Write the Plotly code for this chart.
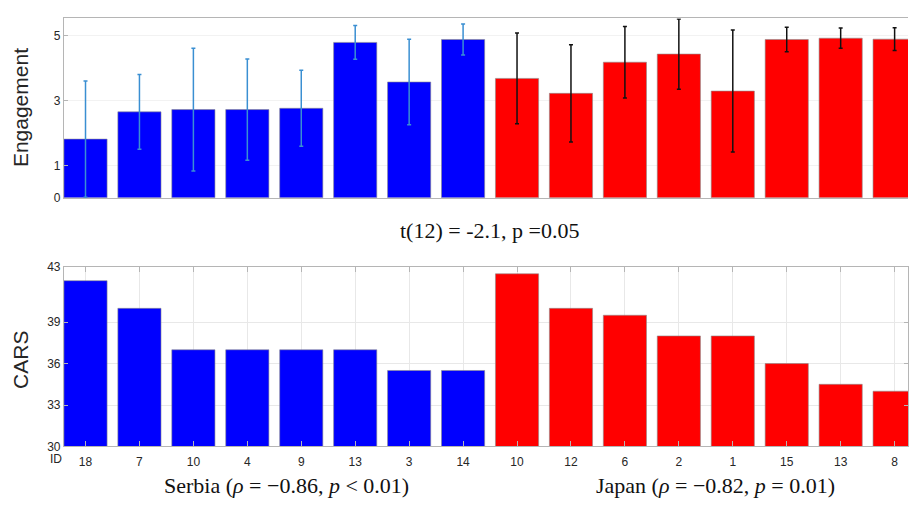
import plotly.graph_objects as go

# ---- data ----
serbia_ids = ["18", "7", "10", "4", "9", "13", "3", "14"]
japan_ids = ["10", "12", "6", "2", "1", "15", "13", "8"]

serbia_eng = [1.81, 2.65, 2.72, 2.72, 2.76, 4.79, 3.57, 4.88]
serbia_eng_sd = [1.79, 1.15, 1.89, 1.56, 1.17, 0.52, 1.32, 0.48]
japan_eng = [3.68, 3.22, 4.18, 4.43, 3.29, 4.88, 4.92, 4.89]
japan_eng_sd = [1.40, 1.50, 1.10, 1.08, 1.88, 0.38, 0.31, 0.35]

serbia_cars = [42.0, 40.0, 37.0, 37.0, 37.0, 37.0, 35.5, 35.5]
japan_cars = [42.5, 40.0, 39.5, 38.0, 38.0, 36.0, 34.5, 34.0]

eng_ticks = [0, 1, 3, 5]
cars_ticks = [30, 33, 36, 39, 43]

W, H = 909, 505
BLUE = "#0000ff"
RED = "#ff0000"
ERR_BLUE = "#3a8fd2"
ERR_BLACK = "#111111"
AXIS = "#b5b5b5"
TICKFONT = dict(family="Liberation Sans, Arial, sans-serif", size=12, color="#262626")

xs_serbia = [i + 1 for i in range(len(serbia_ids))]
xs_japan = [len(serbia_ids) + i + 1 for i in range(len(japan_ids))]
all_ids = serbia_ids + japan_ids
all_x = xs_serbia + xs_japan

fig = go.Figure()

edge = dict(color="#8c8c8c", width=0.6)

fig.add_trace(go.Bar(x=xs_serbia, y=serbia_eng, width=0.8, marker=dict(color=BLUE, line=edge),
                     error_y=dict(type="data", array=serbia_eng_sd, color=ERR_BLUE, thickness=1.5, width=2),
                     xaxis="x", yaxis="y", showlegend=False))
fig.add_trace(go.Bar(x=xs_japan, y=japan_eng, width=0.8, marker=dict(color=RED, line=edge),
                     error_y=dict(type="data", array=japan_eng_sd, color=ERR_BLACK, thickness=1.5, width=2),
                     xaxis="x", yaxis="y", showlegend=False))

fig.add_trace(go.Bar(x=xs_serbia, y=serbia_cars, width=0.8, marker=dict(color=BLUE, line=edge),
                     xaxis="x2", yaxis="y2", showlegend=False))
fig.add_trace(go.Bar(x=xs_japan, y=japan_cars, width=0.8, marker=dict(color=RED, line=edge),
                     xaxis="x2", yaxis="y2", showlegend=False))

xr = [0.6, 0.6 + (W - 64) / 54.0]
xdom = [64 / W, 1.0]

fig.update_layout(
    width=W, height=H,
    margin=dict(l=0, r=0, t=0, b=0),
    plot_bgcolor="white", paper_bgcolor="white",
    barmode="overlay",
    xaxis=dict(domain=xdom, range=xr, showticklabels=False, ticks="", showgrid=False,
               zeroline=False, showline=True, linecolor=AXIS, linewidth=1, mirror=True,
               anchor="y"),
    yaxis=dict(domain=[1 - 196.3 / H, 1 - 11.7 / H], range=[0, 5.53], tickvals=eng_ticks,
               ticks="inside", ticklen=4, tickcolor=AXIS, showgrid=True, gridcolor="#f2f2f2",
               zeroline=False, showline=True, linecolor=AXIS, linewidth=1, tickfont=TICKFONT,
               anchor="x"),
    xaxis2=dict(domain=xdom, range=xr, tickvals=all_x, ticktext=all_ids,
                ticks="inside", ticklen=5, tickcolor=AXIS, mirror="ticks",
                showgrid=True, gridcolor="#e8e8e8", zeroline=False, ticklabelstandoff=4,
                showline=True, linecolor=AXIS, linewidth=1, tickfont=TICKFONT, anchor="y2"),
    yaxis2=dict(domain=[1 - 452.0 / H, 1 - 267.3 / H], range=[30, 43], tickvals=cars_ticks,
                ticks="inside", ticklen=4, tickcolor=AXIS, mirror="ticks",
                showgrid=True, gridcolor="#e8e8e8", zeroline=False,
                showline=True, linecolor=AXIS, linewidth=1, tickfont=TICKFONT, anchor="x2"),
)

SERIF = "Liberation Serif, Times New Roman, serif"


def px(x, y):
    return x / W, 1 - y / H


annots = [
    (20, 103, "Engagement", dict(family="Liberation Sans, Arial", size=21, color="#262626"), -90),
    (21, 363, "CARS", dict(family="Liberation Sans, Arial", size=21, color="#262626"), -90),
    (56, 465, "ID", TICKFONT, 0),
    (490, 230, "t(12) = -2.1, p =0.05", dict(family=SERIF, size=22, color="#111111"), 0),
    (287, 492, "Serbia (<i>ρ</i> = −0.86, <i>p</i> &lt; 0.01)", dict(family=SERIF, size=22, color="#111111"), 0),
    (716, 492, "Japan (<i>ρ</i> = −0.82, <i>p</i> = 0.01)", dict(family=SERIF, size=22, color="#111111"), 0),
]
for x, y, t, f, ang in annots:
    ax, ay = px(x, y)
    fig.add_annotation(x=ax, y=ay, xref="paper", yref="paper", text=t, showarrow=False,
                       font=f, textangle=ang, xanchor="center", yanchor="middle")

fig.write_html("out.html", config={"displayModeBar": False},
               post_script="document.body.style.margin='0';document.body.style.overflow='hidden';")
